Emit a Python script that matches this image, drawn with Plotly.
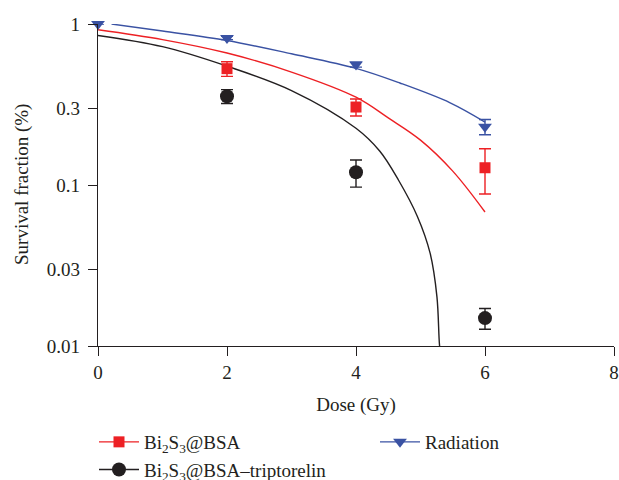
import plotly.graph_objects as go

# Measured survival fractions (mean ± error) per dose
dose = [0, 2, 4, 6]
rad_y = [1.0, 0.82, 0.56, 0.23]
rad_err = [0.0, 0.02, 0.02, 0.025]

bsa_dose = [2, 4, 6]
bsa_y = [0.528, 0.305, 0.128]
bsa_err = [0.055, 0.037, 0.04]

trip_dose = [2, 4, 6]
trip_y = [0.356, 0.12, 0.0149]
trip_err = [0.035, 0.023, 0.0022]

# Fitted survival curves (sampled along each curve)
rad_fit_x = [0.21, 1, 2, 3, 4, 4.68, 5.46, 6]
rad_fit_y = [1.0, 0.904, 0.79, 0.653, 0.53, 0.43, 0.324, 0.246]

bsa_fit_x = [0, 1, 2, 3, 4, 4.5, 5, 5.5, 6]
bsa_fit_y = [0.921, 0.80, 0.66, 0.503, 0.351, 0.261, 0.19, 0.122, 0.068]

trip_fit_x = [0, 1, 2, 3, 4, 4.37, 4.66, 4.95, 5.15, 5.255, 5.295, 5.32]
trip_fit_y = [0.849, 0.723, 0.547, 0.386, 0.225, 0.162, 0.107, 0.064, 0.0376, 0.0202, 0.0101, 0.0085]

x_ticks = [0, 2, 4, 6, 8]
y_ticks = [0.01, 0.03, 0.1, 0.3, 1]
y_tick_text = ["0.01", "0.03", "0.1", "0.3", "1"]

names = {
    "bsa": "Bi<sub>2</sub>S<sub>3</sub>@BSA",
    "rad": "Radiation",
    "trip": "Bi<sub>2</sub>S<sub>3</sub>@BSA\u2013triptorelin",
}

RED = "#ED2024"
BLUE = "#3A52A3"
BLACK = "#231F20"
FONT = "Liberation Serif"

fig = go.Figure()

# fit curves
for fx, fy, col in [(trip_fit_x, trip_fit_y, BLACK),
                    (bsa_fit_x, bsa_fit_y, RED),
                    (rad_fit_x, rad_fit_y, BLUE)]:
    fig.add_trace(go.Scatter(
        x=fx, y=fy, mode="lines",
        line=dict(color=col, width=1.4, shape="spline", smoothing=1.0),
        showlegend=False, hoverinfo="skip"))


# measured points with error bars
def points(x, y, err, col, symbol, size):
    return go.Scatter(
        x=x, y=y, mode="markers",
        marker=dict(color=col, symbol=symbol, size=size, line=dict(width=0)),
        error_y=dict(type="data", array=err, visible=True, color=col,
                     thickness=1.4, width=6),
        cliponaxis=False, showlegend=False)


fig.add_trace(points(trip_dose, trip_y, trip_err, BLACK, "circle", 14))
fig.add_trace(points(bsa_dose, bsa_y, bsa_err, RED, "square", 11))
fig.add_trace(points(dose, rad_y, rad_err, BLUE, "triangle-down", 12))

# legend entries (line + marker)
for key, col, symbol, size, leg in [("bsa", RED, "square", 11, "legend"),
                                    ("trip", BLACK, "circle", 14, "legend"),
                                    ("rad", BLUE, "triangle-down", 12, "legend2")]:
    fig.add_trace(go.Scatter(
        x=[None], y=[None], mode="lines+markers", name=names[key],
        line=dict(color=col, width=1.4),
        marker=dict(color=col, symbol=symbol, size=size),
        legend=leg))

axis_common = dict(
    showline=True, linecolor=BLACK, linewidth=1.4,
    ticks="outside", ticklen=9, tickwidth=1.4, tickcolor=BLACK,
    showgrid=False, zeroline=False, automargin=False,
    tickfont=dict(family=FONT, size=19, color=BLACK),
)

legend_common = dict(
    orientation="v", xref="container", yref="container",
    xanchor="left", yanchor="top",
    font=dict(family=FONT, size=19, color=BLACK),
    bgcolor="rgba(0,0,0,0)", itemwidth=40, tracegroupgap=0,
)

fig.update_layout(
    width=619, height=480,
    margin=dict(l=98, r=5, t=24, b=134, autoexpand=False),
    paper_bgcolor="white", plot_bgcolor="white",
    font=dict(family=FONT, size=19, color=BLACK),
    xaxis=dict(range=[0, 8], tickvals=x_ticks, ticklabelstandoff=0,
               **axis_common,
               title=dict(text="Dose (Gy)",
                          font=dict(family=FONT, size=19, color=BLACK))),
    yaxis=dict(type="log", range=[-2, 0], tickvals=y_ticks,
               ticktext=y_tick_text, ticklabelstandoff=4, **axis_common),
    legend=dict(x=94 / 619, y=1 - 423 / 480, **legend_common),
    legend2=dict(x=375 / 619, y=1 - 423 / 480, **legend_common),
    annotations=[dict(
        text="Survival fraction (%)", textangle=-90,
        xref="paper", yref="paper", x=-76 / 516, y=0.5,
        xanchor="center", yanchor="middle", showarrow=False,
        font=dict(family=FONT, size=19, color=BLACK))],
)

fig.write_html("out.html")
